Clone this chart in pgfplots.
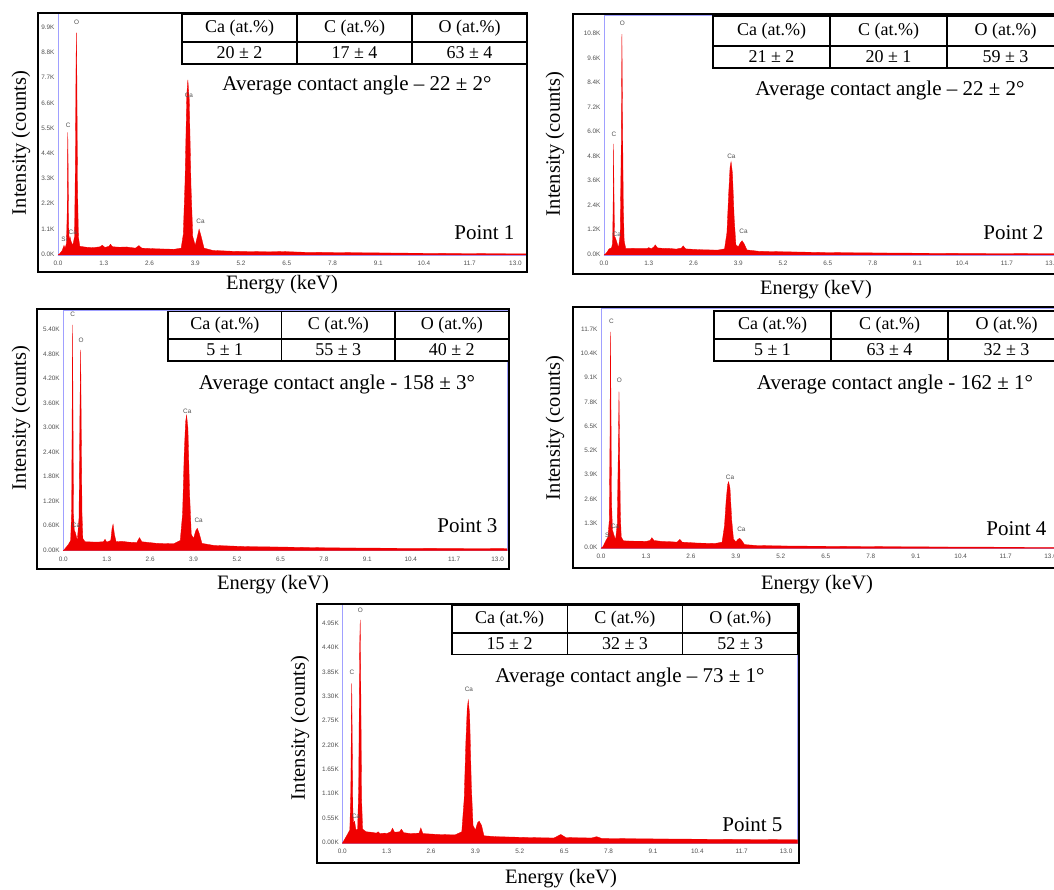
\documentclass[border=0pt]{standalone}
\usepackage{fontspec}
\setmainfont{Liberation Serif}
\setsansfont{Liberation Sans}
\usepackage{pgfplots}
\pgfplotsset{compat=1.18}

\definecolor{specred}{RGB}{240,0,0}
\definecolor{axblue}{RGB}{160,160,255}
\definecolor{tickgray}{RGB}{80,80,80}

\newcommand{\tickfont}{\sffamily\fontsize{6.4}{7}\selectfont}
\newcommand{\tabfont}{\fontsize{18}{20}\selectfont}
\newcommand{\bigfont}{\fontsize{21}{24}\selectfont}
\newcommand{\labfont}{\fontsize{20.5}{24}\selectfont}

% table: left, top, mid, bottom, column width, Ca, C, O
\newcommand{\edstable}[8]{%
  \fill[white] (#1,#2) rectangle ({#1+3*#5},#4);
  \draw[line width=1.6pt] (#1,#2) rectangle ({#1+3*#5},#4);
  \draw[line width=1.6pt] (#1,#3) -- ({#1+3*#5},#3);
  \draw[line width=1.6pt] ({#1+#5},#2) -- ({#1+#5},#4);
  \draw[line width=1.6pt] ({#1+2*#5},#2) -- ({#1+2*#5},#4);
  \node[font=\tabfont] at ({#1+0.5*#5},{(#2+#3)/2}) {Ca (at.\%)};
  \node[font=\tabfont] at ({#1+1.5*#5},{(#2+#3)/2}) {C (at.\%)};
  \node[font=\tabfont] at ({#1+2.5*#5},{(#2+#3)/2}) {O (at.\%)};
  \node[font=\tabfont] at ({#1+0.5*#5},{(#3+#4)/2}) {#6};
  \node[font=\tabfont] at ({#1+1.5*#5},{(#3+#4)/2}) {#7};
  \node[font=\tabfont] at ({#1+2.5*#5},{(#3+#4)/2}) {#8};
}

\pgfplotsset{
  eds/.style={
    scale only axis, anchor=south west,
    xmin=0, ymin=0, clip=false, scaled ticks=false,
    axis line style={draw=axblue, line width=0.9pt},
    major tick length=0pt,
    typeset ticklabels with strut,
    xtick={0,1.3,2.6,3.9,5.2,6.5,7.8,9.1,10.4,11.7,13},
    xticklabels={0.0,1.3,2.6,3.9,5.2,6.5,7.8,9.1,10.4,11.7,13.0},
    ticklabel style={font=\tickfont, text=tickgray},
    xticklabel style={anchor=north, yshift=-2pt},
  },
  spec/.style={draw=specred, fill=specred, line width=0.3pt},
}
\tikzset{el/.style={font=\tickfont, text=tickgray}}

\begin{document}
\begin{tikzpicture}
\path[use as bounding box] (0pt,0pt) rectangle (1054pt,-890pt);
\clip (0pt,0pt) rectangle (1054pt,-890pt);

% Point 1
\begin{axis}[eds, at={(58pt,-255pt)}, width=468pt, height=242pt,
    xmax=13.3, ymax=10560,
    ytick={0,1100,2200,3300,4400,5500,6600,7700,8800,9900},
    yticklabels={0.0K,1.1K,2.2K,3.3K,4.4K,5.5K,6.6K,7.7K,8.8K,9.9K}]
\addplot[spec] coordinates {
  (0,0) (0.05,60) (0.12,200) (0.17,420) (0.2,300) (0.24,500) (0.26,1800)
  (0.272,4200) (0.278,5350) (0.287,4000) (0.3,1500) (0.315,600) (0.34,800)
  (0.37,600) (0.42,420) (0.47,800) (0.495,4200) (0.513,8500) (0.523,9700)
  (0.535,8000) (0.555,3000) (0.58,800) (0.62,380) (0.8,340) (1.0,320)
  (1.2,360) (1.26,430) (1.33,330) (1.45,380) (1.49,470) (1.55,360)
  (1.75,340) (1.95,350) (2.2,300) (2.3,410) (2.38,300) (2.8,270) (3.3,250)
  (3.5,300) (3.56,900) (3.61,3200) (3.66,7000) (3.69,7640) (3.73,6800)
  (3.78,3000) (3.83,800) (3.9,420) (3.96,800) (4.01,1130) (4.07,800)
  (4.15,300) (4.4,200) (5.0,160) (6.0,140) (6.4,150) (7.0,120) (8.5,100)
  (10,80) (12,60) (13.3,50)
} \closedcycle;
\node[el] at (axis cs:0.53,10150) {O};
\node[el] at (axis cs:0.29,5680) {C};
\node[el] at (axis cs:3.72,6950) {Ca};
\node[el] at (axis cs:4.05,1480) {Ca};
\node[el] at (axis cs:0.42,1000) {Ca};
\node[el] at (axis cs:0.18,700) {Si};
\end{axis}

% Point 2
\begin{axis}[eds, at={(604pt,-255pt)}, width=458pt, height=240pt,
    xmax=13.3, ymax=11755,
    ytick={0,1200,2400,3600,4800,6000,7200,8400,9600,10800},
    yticklabels={0.0K,1.2K,2.4K,3.6K,4.8K,6.0K,7.2K,8.4K,9.6K,10.8K}]
\addplot[spec] coordinates {
  (0,0) (0.06,80) (0.15,300) (0.22,350) (0.25,600) (0.265,2500) (0.277,5440)
  (0.29,3000) (0.305,900) (0.33,850) (0.36,700) (0.42,350) (0.47,1000)
  (0.5,5200) (0.52,10820) (0.537,7000) (0.56,2500) (0.585,700) (0.63,330)
  (1.0,320) (1.25,320) (1.3,360) (1.38,310) (1.45,400) (1.49,500) (1.55,350)
  (1.75,320) (1.85,330) (2.1,290) (2.25,340) (2.3,450) (2.37,300) (2.8,260)
  (3.3,240) (3.5,300) (3.57,1100) (3.62,3000) (3.66,4300) (3.69,4570)
  (3.73,4000) (3.78,1800) (3.83,500) (3.9,400) (3.96,600) (4.01,700)
  (4.07,550) (4.15,250) (4.5,180) (5.5,150) (6.5,120) (8,100) (10,80)
  (13.3,60)
} \closedcycle;
\node[el] at (axis cs:0.53,11350) {O};
\node[el] at (axis cs:0.29,5910) {C};
\node[el] at (axis cs:3.7,4810) {Ca};
\node[el] at (axis cs:4.05,1180) {Ca};
\node[el] at (axis cs:0.37,1010) {Ca};
\end{axis}

% Point 3
\begin{axis}[eds, at={(63.3pt,-550.7pt)}, width=443.7pt, height=240.7pt,
    xmax=13.28, ymax=5895,
    ytick={0,600,1200,1800,2400,3000,3600,4200,4800,5400},
    yticklabels={0.00K,0.60K,1.20K,1.80K,2.40K,3.00K,3.60K,4.20K,4.80K,5.40K}]
\addplot[spec] coordinates {
  (0,0) (0.06,60) (0.15,150) (0.22,250) (0.25,1000) (0.265,3500) (0.277,5530)
  (0.29,3500) (0.305,900) (0.33,500) (0.36,450) (0.42,250) (0.47,800)
  (0.5,3600) (0.52,4920) (0.537,3000) (0.56,900) (0.585,300) (0.65,220)
  (1.0,210) (1.2,220) (1.25,280) (1.3,210) (1.42,250) (1.46,550) (1.49,650)
  (1.53,400) (1.58,220) (1.75,230) (1.95,210) (2.2,200) (2.28,320)
  (2.35,220) (2.8,180) (3.3,170) (3.5,250) (3.57,900) (3.62,2400)
  (3.66,3150) (3.69,3320) (3.73,3000) (3.78,1400) (3.83,400) (3.9,300)
  (3.96,480) (4.01,550) (4.07,420) (4.15,180) (4.5,130) (5.5,100) (6.5,90)
  (8,70) (10,60) (13.28,50)
} \closedcycle;
\node[el] at (axis cs:0.28,5800) {C};
\node[el] at (axis cs:0.53,5160) {O};
\node[el] at (axis cs:3.71,3420) {Ca};
\node[el] at (axis cs:4.05,750) {Ca};
\node[el] at (axis cs:0.38,610) {Ca};
\end{axis}

% Point 4
\begin{axis}[eds, at={(601pt,-548.3pt)}, width=460pt, height=240pt,
    xmax=13.3, ymax=12860,
    ytick={0,1300,2600,3900,5200,6500,7800,9100,10400,11700},
    yticklabels={0.0K,1.3K,2.6K,3.9K,5.2K,6.5K,7.8K,9.1K,10.4K,11.7K}]
\addplot[spec] coordinates {
  (0,0) (0.06,100) (0.15,450) (0.2,600) (0.24,1500) (0.26,6000)
  (0.272,11600) (0.287,8000) (0.305,2500) (0.33,1000) (0.36,800) (0.42,450)
  (0.47,1300) (0.5,5200) (0.52,8390) (0.537,5500) (0.56,1800) (0.585,600)
  (0.65,400) (1.0,380) (1.2,380) (1.3,370) (1.42,420) (1.47,570) (1.53,420)
  (1.75,370) (1.95,360) (2.2,330) (2.28,480) (2.35,330) (2.8,280) (3.3,260)
  (3.5,330) (3.57,1200) (3.62,2600) (3.66,3400) (3.69,3570) (3.73,3200)
  (3.78,1500) (3.83,500) (3.9,350) (3.96,480) (4.01,540) (4.07,420)
  (4.15,200) (4.5,150) (5.5,120) (6.5,110) (8,90) (10,70) (13.3,50)
} \closedcycle;
\node[el] at (axis cs:0.3,12140) {C};
\node[el] at (axis cs:0.53,8980) {O};
\node[el] at (axis cs:3.73,3800) {Ca};
\node[el] at (axis cs:4.06,1020) {Ca};
\node[el] at (axis cs:0.4,1190) {Ca};
\node[el] at (axis cs:0.2,710) {Si};
\end{axis}

% Point 5
\begin{axis}[eds, at={(342.3pt,-843.3pt)}, width=455.4pt, height=239.3pt,
    xmax=13.34, ymax=5401,
    ytick={0,550,1100,1650,2200,2750,3300,3850,4400,4950},
    yticklabels={0.00K,0.55K,1.10K,1.65K,2.20K,2.75K,3.30K,3.85K,4.40K,4.95K}]
\addplot[spec] coordinates {
  (0,0) (0.06,80) (0.15,200) (0.22,300) (0.25,1200) (0.265,2800)
  (0.277,3610) (0.292,2200) (0.31,700) (0.33,450) (0.36,500) (0.4,300)
  (0.45,320) (0.48,1300) (0.51,4500) (0.525,5040) (0.542,3500) (0.565,1000)
  (0.595,320) (0.7,260) (0.85,250) (1.0,230) (1.05,260) (1.1,220) (1.25,230)
  (1.3,220) (1.42,260) (1.47,340) (1.53,250) (1.68,260) (1.73,320) (1.8,240)
  (2.0,220) (2.25,230) (2.3,350) (2.36,220) (2.8,200) (3.3,190) (3.5,260)
  (3.57,1000) (3.62,2300) (3.66,3050) (3.69,3230) (3.73,2900) (3.78,1300)
  (3.83,400) (3.9,300) (3.96,460) (4.01,500) (4.08,400) (4.15,170)
  (4.5,150) (5.5,130) (6.2,120) (6.4,200) (6.55,130) (7.3,120) (7.45,150)
  (7.6,110) (9,100) (11,90) (13.34,80)
} \closedcycle;
\node[el] at (axis cs:0.53,5270) {O};
\node[el] at (axis cs:0.28,3870) {C};
\node[el] at (axis cs:3.71,3480) {Ca};
\node[el] at (axis cs:0.4,600) {Ca};
\end{axis}

\begin{scope}[x=1pt, y=-1pt]
  % frames
  \draw[line width=2pt] (38,13) rectangle (527,272);
  \draw[line width=2pt] (573,14.5) rectangle (1075,274);
  \draw[line width=2pt] (37,309.5) rectangle (509,569);
  \draw[line width=2pt] (573,307.5) rectangle (1075,567.5);
  \draw[line width=2pt] (317,603.5) rectangle (799,862.5);

  % tables
  \edstable{182}{14}{42}{64}{115}{20 ± 2}{17 ± 4}{63 ± 4}
  \edstable{713}{16}{46}{68}{117}{21 ± 2}{20 ± 1}{59 ± 3}
  \edstable{168}{311.5}{339}{361}{113.5}{5 ± 1}{55 ± 3}{40 ± 2}
  \edstable{714}{311}{339}{361}{117}{5 ± 1}{63 ± 4}{32 ± 3}
  \edstable{452}{605}{633}{654.5}{115.3}{15 ± 2}{32 ± 3}{52 ± 3}

  % contact angles
  \node[font=\bigfont] at (357,85) {Average contact angle – 22 ± 2°};
  \node[font=\bigfont] at (890,90) {Average contact angle – 22 ± 2°};
  \node[font=\bigfont] at (337,384) {Average contact angle - 158 ± 3°};
  \node[font=\bigfont] at (895,384) {Average contact angle - 162 ± 1°};
  \node[font=\bigfont] at (630,677) {Average contact angle – 73 ± 1°};

  % point labels
  \node[font=\bigfont, anchor=east] at (518,233) {Point 1};
  \node[font=\bigfont, anchor=east] at (1047,233) {Point 2};
  \node[font=\bigfont, anchor=east] at (501,526) {Point 3};
  \node[font=\bigfont, anchor=east] at (1050,529) {Point 4};
  \node[font=\bigfont, anchor=east] at (786,825) {Point 5};

  % axis titles
  \foreach \x/\y in {21/143, 555/144, 21/418, 555/428, 300/728}
    \node[font=\labfont, rotate=90] at (\x,\y) {Intensity (counts)};
  \foreach \x/\y in {282/285, 816/290, 273/585, 817/585, 561/879}
    \node[font=\labfont] at (\x,\y) {Energy (keV)};
\end{scope}
\end{tikzpicture}
\end{document}
